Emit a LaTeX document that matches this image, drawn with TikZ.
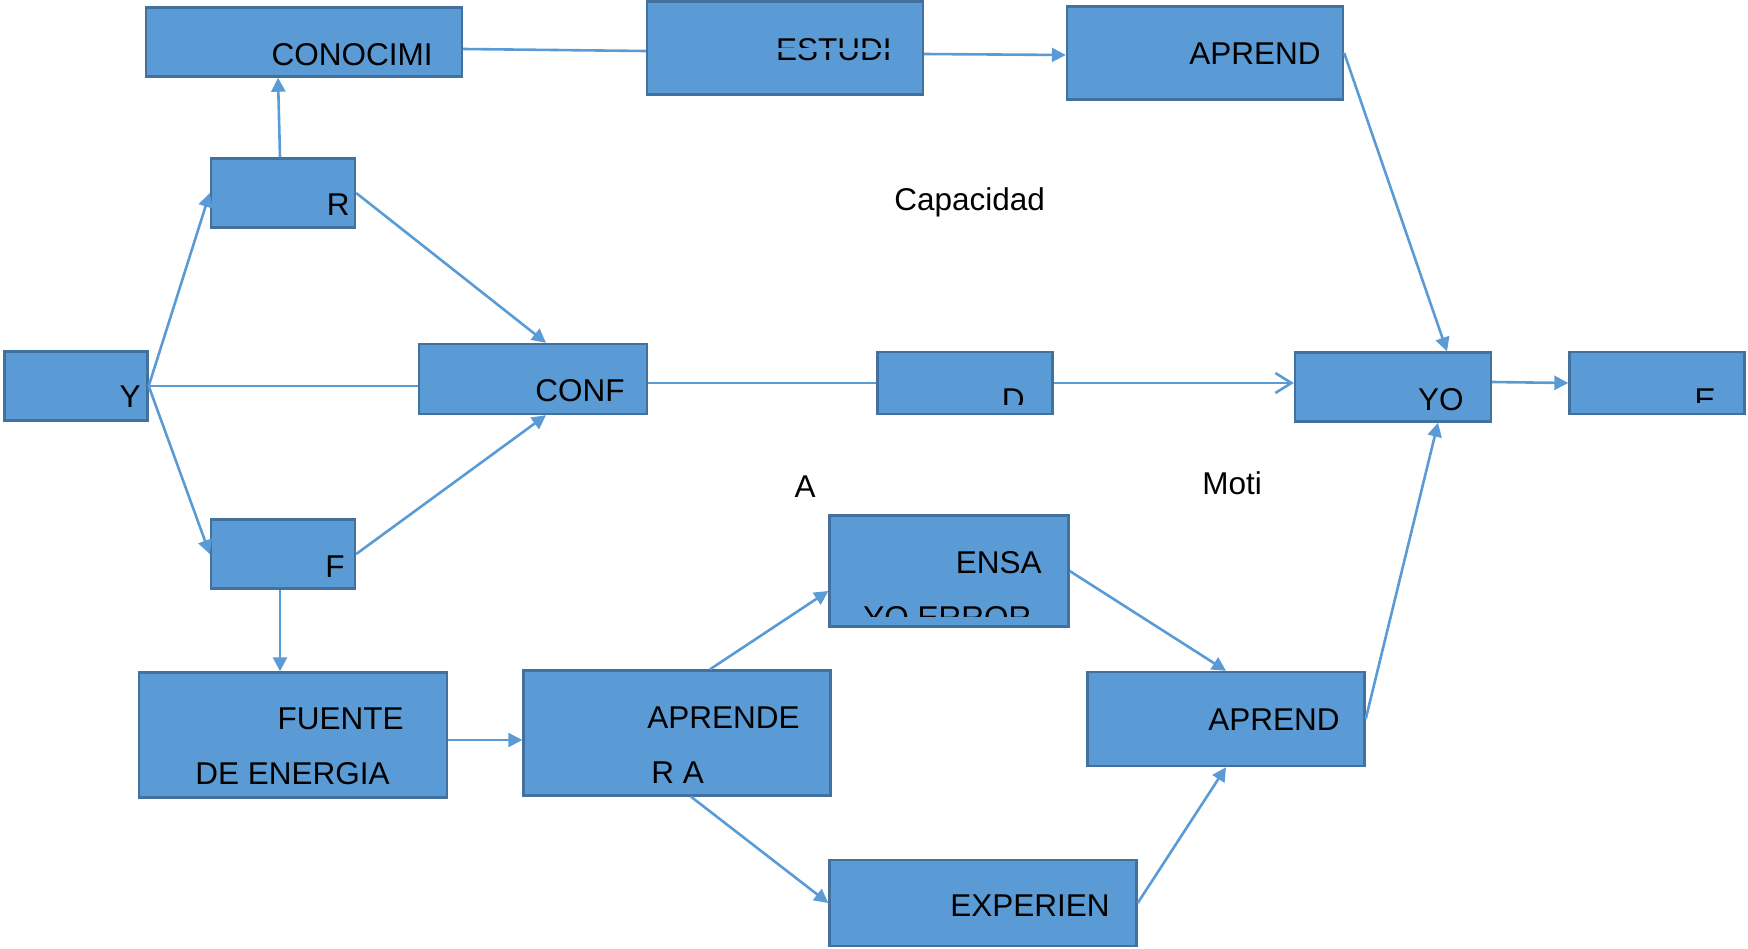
\documentclass[tikz,border=0pt]{standalone}
\usepackage{fontspec}
\setmainfont{Liberation Sans}
\usetikzlibrary{arrows.meta,positioning}
\definecolor{boxblue}{HTML}{5B9BD5}
\definecolor{boxedge}{HTML}{41719C}

\begin{document}
\begin{tikzpicture}[
    x=0.5pt, y=-0.5pt,
    block/.style={rectangle, draw=boxedge, line width=1.2pt, fill=boxblue, inner sep=0pt},
    txt/.style={inner sep=0pt, font=\fontsize{15.75}{19}\selectfont},
    line/.style={draw=boxblue, line width=1.3pt},
    tipline/.style={line, -{Triangle[length=7pt, width=7pt]}},
    openline/.style={line, -{Straight Barb[length=8pt, width=10pt, line width=1.3pt]}}
  ]
  \useasboundingbox (0,0) rectangle (1748,948);

  % Nodes
  \node [block, minimum width=158pt, minimum height=34.5pt] (conocimi) at (304,42) {};
  \node [block, minimum width=138pt, minimum height=46.5pt] (estudi) at (785,48) {};
  \node [block, minimum width=138pt, minimum height=46.5pt] (aprendtop) at (1205,53) {};
  \node [block, minimum width=72pt, minimum height=34.5pt] (r) at (283,193) {};
  \node [block, minimum width=71.5pt, minimum height=34.5pt] (y) at (76,386) {};
  \node [block, minimum width=114pt, minimum height=35pt] (conf) at (533,379) {};
  \node [block, minimum width=87.5pt, minimum height=31pt] (d) at (965,383) {};
  \node [block, minimum width=98pt, minimum height=34.5pt] (yo) at (1393,387) {};
  \node [block, minimum width=87.5pt, minimum height=31pt] (e) at (1657,383) {};
  \node [block, minimum width=72pt, minimum height=34.5pt] (f) at (283,554) {};
  \node [block, minimum width=119.5pt, minimum height=55.5pt] (ensa) at (949,571) {};
  \node [block, minimum width=154pt, minimum height=62.5pt] (fuente) at (293,735) {};
  \node [block, minimum width=153.5pt, minimum height=62.5pt] (aprender) at (677,733) {};
  \node [block, minimum width=138.5pt, minimum height=47pt] (aprendbot) at (1226,719) {};
  \node [block, minimum width=153.5pt, minimum height=43pt] (experien) at (983,903) {};

  % Texts in the boxes
  \node [txt, anchor=base east] (t-conocimi) at (433,65) {CONOCIMI};
  \node [txt, anchor=base east] (t-estudi) at (892,60) {ESTUDI};
  \fill [boxblue] (770,48) rectangle (898,52);
  \node [txt, anchor=base east] (t-aprendtop) at (1321,64) {APREND};
  \node [txt, anchor=base east] (t-r) at (350,215) {R};
  \node [txt, anchor=base east] (t-y) at (141,407) {Y};
  \node [txt, anchor=base east] (t-conf) at (625,401) {CONF};
  \begin{scope}
    \clip (877,352) rectangle (1052,404);
    \node [txt, anchor=base east] (t-d) at (1025,410) {D};
  \end{scope}
  \node [txt, anchor=base east] (t-yo) at (1464,410) {YO};
  \begin{scope}
    \clip (1570,352) rectangle (1745,402);
    \node [txt, anchor=base east] (t-e) at (1716,410) {E};
  \end{scope}
  \node [txt, anchor=base east] (t-f) at (345,577) {F};
  \node [txt, anchor=base east] (t-ensa) at (1042,573) {ENSA};
  \begin{scope}
    \clip (829,516) rectangle (1068,616);
    \node [txt, anchor=base west] (t-error) at (863,628) {YO ERROR};
  \end{scope}
  \node [txt, anchor=base east] (t-fuente) at (404,729) {FUENTE};
  \node [txt, anchor=base east] (t-energia) at (390,784) {DE ENERGIA};
  \node [txt, anchor=base east] (t-aprender) at (800,728) {APRENDE};
  \node [txt, anchor=base west] (t-ra) at (651,783) {R A};
  \node [txt, anchor=base east] (t-aprendbot) at (1340,730) {APREND};
  \node [txt, anchor=base east] (t-experien) at (1110,916) {EXPERIEN};

  % Edges
  \path [line] ([yshift=-3.5pt]conocimi.east) -- ([yshift=-1.5pt]estudi.west);
  \path [tipline] ([yshift=-3pt]estudi.east) -- ([yshift=-1pt]aprendtop.west);
  \path [tipline] (aprendtop.east) -- ([xshift=27pt]yo.north);
  \path [tipline] ([xshift=-1.5pt]r.north) -- ([xshift=-13pt]conocimi.south);
  \path [tipline] (y.east) -- (r.west);
  \path [line] (y.east) -- (conf.west |- y.east);
  \path [tipline] (y.east) -- (f.west);
  \path [tipline] (r.east) -- ([xshift=6.5pt]conf.north);
  \path [tipline] (f.east) -- ([xshift=6.5pt]conf.south);
  \path [line] ([yshift=-2pt]conf.east) -- (d.west);
  \path [openline] (d.east) -- ([yshift=2pt]yo.west);
  \path [tipline] ([yshift=2.5pt]yo.east) -- (e.west);
  \path [tipline] ([xshift=-1.5pt]f.south) -- ([xshift=-6.5pt]fuente.north);
  \path [tipline] ([yshift=-2.5pt]fuente.east) -- ([yshift=-3.5pt]aprender.west);
  \path [tipline] ([xshift=16.5pt]aprender.north) -- ([yshift=-10pt]ensa.west);
  \path [tipline] ([xshift=7pt]aprender.south) -- (experien.west);
  \path [tipline] (ensa.east) -- (aprendbot.north);
  \path [tipline] (experien.east) -- (aprendbot.south);
  \path [tipline] (aprendbot.east) -- ([xshift=22.5pt]yo.south);

  % Labels
  \node [txt, anchor=base west] (capacidad) at (894,210) {Capacidad};
  \node [txt, anchor=base] (a) at (805,497) {A};
  \node [txt, anchor=base west] (moti) at (1202,494) {Moti};
\end{tikzpicture}
\end{document}
